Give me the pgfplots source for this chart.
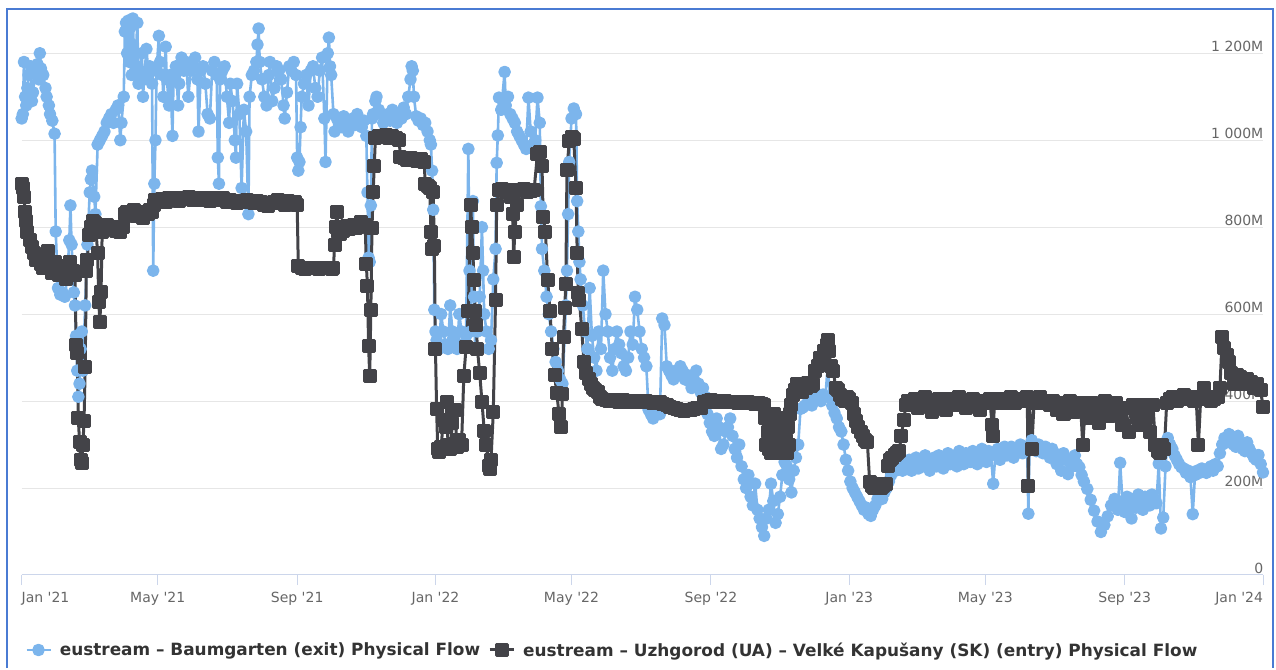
\documentclass[border=0pt]{standalone}
\usepackage{fontspec}
\usepackage{pgfplots}
\pgfplotsset{compat=1.18}
\newfontfamily\dv{DejaVu Sans}
\definecolor{hcblue}{HTML}{7CB5EC}
\definecolor{hcdark}{HTML}{434348}
\definecolor{gridc}{HTML}{E6E6E6}
\definecolor{axisc}{HTML}{CCD6EB}
\definecolor{labc}{HTML}{666666}
\definecolor{legc}{HTML}{333333}
\definecolor{framec}{HTML}{4A7BD3}
\pgfplotsset{legend image code/.code={\draw[mark repeat=2,mark phase=2,#1] plot coordinates {(0pt,0pt) (12pt,0pt) (24pt,0pt)};}}
\begin{document}
\begin{tikzpicture}
\path (0pt,0pt) rectangle (1276pt,668pt);
\begin{axis}[
  at={(21.7pt,93pt)}, anchor=south west,
  scale only axis, width=1241.3pt, height=565.2pt,
  xmin=0, xmax=1095, ymin=0, ymax=1300,
  clip=false, set layers,
  axis x line*=bottom, axis y line*=right,
  x axis line style={draw=axisc, line width=1pt, -},
  y axis line style={draw=none},
  xtick={0,120,243,365,485,608,730,850,973,1095},
  xticklabels={\makebox[0pt][l]{Jan '21},May '21,Sep '21,Jan '22,May '22,Sep '22,Jan '23,May '23,Sep '23,\makebox[0pt][r]{Jan '24}},
  tick align=outside, major tick length=10pt,
  xtick style={draw=axisc, line width=1pt},
  ytick style={draw=none},
  ytick={0,200,400,600,800,1000,1200},
  yticklabels={0,200M,400M,600M,800M,1 000M,1 200M},
  yticklabel pos=right,
  ymajorgrids, grid style={draw=gridc, line width=1pt},
  xticklabel style={font=\dv\fontsize{14}{16}\selectfont, text=labc, anchor=north, yshift=-4pt},
  yticklabel style={font=\dv\fontsize{14}{16}\selectfont, text=labc, anchor=south east, inner sep=1.5pt, xshift=-8pt},
  legend columns=2, legend cell align=left,
  legend style={at={(rel axis cs:0,0)}, anchor=west, xshift=3.3pt, yshift=-75pt,
    draw=none, fill=none, inner sep=0pt,
    font=\dv\bfseries\fontsize{16.9}{20}\selectfont, text=legc,
    nodes={inner sep=0pt},
    /tikz/every odd column/.append style={column sep=8pt},
    /tikz/every even column/.append style={column sep=8pt}},
]
\addplot[color=hcblue, line width=2.6pt, line join=round, mark=*, mark size=5pt, mark options={draw=none, fill=hcblue}] coordinates {
(0,1050) (1,1060) (2,1180) (3,1100) (4,1080) (5,1120) (6,1150) (8,1170) (9,1090) (10,1110) (12,1160) (14,1175) (15,1140) (16,1200) (17,1165) (19,1150) (21,1120) (22,1100) (24,1080) (25,1060) (27,1045) (29,1015) (30,790) (32,660) (34,645) (36,650) (38,640) (40,680) (42,770) (43,850) (44,760) (46,650) (47,620) (48,550) (49,470) (50,410) (51,440) (52,520) (53,560) (54,470) (56,620) (58,760) (60,880) (61,910) (62,930) (64,870) (65,830) (67,990) (69,1000) (71,1010) (73,1020) (75,1040) (77,1050) (79,1060) (81,1040) (83,1070) (85,1080) (87,1000) (88,1040) (90,1100) (91,1250) (92,1270) (93,1200) (94,1275) (95,1180) (96,1260) (97,1150) (98,1280) (99,1200) (100,1160) (102,1270) (103,1130) (104,1150) (106,1200) (107,1100) (108,1140) (110,1210) (112,1150) (113,1170) (115,1130) (116,700) (117,900) (118,1000) (119,1160) (121,1240) (122,1180) (124,1150) (125,1100) (127,1215) (128,1140) (130,1080) (131,1150) (133,1010) (134,1150) (136,1170) (138,1080) (139,1130) (141,1190) (143,1160) (145,1180) (147,1100) (149,1160) (151,1170) (153,1190) (155,1140) (156,1020) (158,1160) (160,1170) (162,1130) (164,1060) (166,1050) (168,1160) (170,1180) (172,1150) (173,960) (174,900) (175,1140) (177,1160) (179,1170) (181,1100) (183,1040) (184,1130) (186,1090) (188,1000) (189,960) (190,1130) (192,1060) (194,890) (196,1070) (198,1020) (200,830) (201,1100) (203,1150) (205,1160) (207,1180) (208,1220) (209,1257) (210,1180) (212,1140) (214,1100) (216,1080) (218,1150) (219,1180) (221,1090) (223,1120) (225,1170) (227,1160) (229,1140) (231,1080) (232,1050) (234,1110) (236,1170) (238,1160) (240,1180) (242,1150) (243,960) (244,930) (245,950) (246,1030) (247,1100) (249,1130) (251,1150) (253,1080) (255,1160) (257,1170) (259,1120) (261,1100) (263,1160) (265,1190) (267,1050) (268,950) (270,1200) (271,1236) (272,1170) (273,1150) (275,1060) (276,1020) (278,1050) (280,1040) (282,1030) (284,1055) (286,1045) (288,1020) (290,1040) (292,1050) (294,1035) (296,1060) (298,1040) (300,1030) (302,1045) (304,1010) (305,880) (306,730) (307,720) (308,850) (309,1050) (310,1060) (312,1090) (313,1100) (315,1070) (317,1060) (319,1040) (321,1050) (323,1060) (325,1045) (327,1070) (329,1050) (331,1040) (333,1060) (335,1050) (337,1075) (339,1060) (341,1100) (343,1140) (344,1170) (345,1160) (346,1100) (348,1055) (350,1045) (352,1050) (354,1035) (356,1040) (358,1020) (360,1000) (361,990) (362,930) (363,840) (364,610) (365,560) (366,540) (368,520) (370,600) (372,560) (374,530) (376,520) (378,620) (380,560) (382,540) (384,520) (386,600) (388,560) (390,530) (392,550) (394,980) (395,700) (396,560) (398,860) (399,640) (400,520) (402,560) (404,640) (406,800) (407,700) (408,600) (410,560) (412,520) (414,540) (416,680) (418,750) (419,948) (420,1011) (421,1098) (423,1070) (426,1157) (427,1080) (429,1100) (431,1060) (433,1050) (435,1040) (437,1020) (439,1010) (441,1000) (443,990) (445,980) (447,1098) (449,1020) (451,990) (453,1000) (455,1098) (457,1040) (458,848) (459,750) (461,700) (463,640) (465,600) (467,560) (469,520) (471,490) (473,470) (475,450) (477,440) (479,550) (480,620) (481,700) (482,830) (483,950) (485,1050) (487,1073) (489,1060) (490,860) (491,790) (492,720) (493,680) (495,620) (497,560) (499,520) (501,660) (503,550) (505,500) (507,470) (509,560) (511,520) (513,700) (515,600) (517,560) (519,500) (521,470) (523,520) (525,560) (527,530) (529,510) (531,480) (533,470) (535,500) (537,560) (539,530) (541,640) (543,610) (545,560) (547,520) (549,500) (551,480) (553,380) (555,370) (557,360) (559,380) (561,375) (563,370) (565,590) (567,575) (569,480) (571,470) (573,460) (575,450) (577,470) (579,460) (581,480) (583,470) (585,450) (587,460) (589,445) (591,430) (593,450) (595,470) (597,440) (599,420) (601,430) (603,410) (605,370) (607,350) (609,330) (611,320) (613,360) (615,340) (617,290) (619,300) (621,330) (623,340) (625,360) (627,320) (629,290) (631,270) (633,300) (635,250) (637,220) (639,200) (641,230) (643,180) (645,160) (647,210) (649,150) (651,130) (653,110) (655,90) (657,130) (659,150) (661,210) (663,170) (665,120) (667,140) (669,180) (671,230) (673,260) (675,250) (677,220) (679,190) (681,240) (683,270) (685,300) (687,382) (689,385) (691,390) (693,395) (695,400) (697,390) (699,405) (701,410) (703,415) (705,400) (707,415) (709,410) (711,480) (713,410) (715,390) (717,373) (719,360) (721,340) (723,330) (725,300) (727,265) (729,240) (731,215) (733,200) (735,190) (737,180) (739,170) (741,160) (743,150) (745,155) (747,140) (749,136) (751,150) (753,160) (755,175) (757,185) (759,175) (761,190) (763,200) (765,215) (767,230) (769,245) (771,240) (773,250) (775,255) (777,240) (779,245) (781,250) (783,265) (785,240) (787,255) (789,270) (791,245) (793,260) (795,250) (797,275) (799,255) (801,240) (803,265) (805,270) (807,250) (809,275) (811,260) (813,245) (815,270) (817,280) (819,255) (821,265) (823,275) (825,250) (827,285) (829,265) (831,255) (833,280) (835,270) (837,260) (839,285) (841,275) (843,255) (845,280) (847,290) (849,270) (851,260) (853,285) (855,275) (857,210) (859,280) (861,290) (863,265) (865,285) (867,295) (869,275) (871,285) (873,295) (875,270) (877,290) (879,285) (881,300) (883,280) (885,295) (887,290) (888,141) (889,290) (891,310) (893,295) (895,285) (897,300) (899,290) (901,280) (903,295) (905,285) (907,270) (909,290) (911,280) (913,255) (915,270) (917,240) (919,280) (921,265) (923,232) (925,260) (927,250) (929,275) (931,255) (933,248) (935,230) (937,215) (940,198) (943,173) (946,148) (949,123) (952,99) (955,115) (958,135) (961,160) (964,175) (967,150) (969,258) (971,170) (973,145) (975,180) (977,160) (979,130) (981,175) (983,155) (985,185) (987,165) (989,150) (991,180) (993,170) (995,160) (997,185) (999,175) (1001,165) (1003,256) (1005,107) (1007,132) (1009,250) (1011,315) (1013,300) (1015,290) (1017,275) (1019,265) (1021,255) (1023,248) (1025,245) (1027,235) (1029,240) (1031,225) (1033,140) (1035,230) (1037,240) (1039,235) (1041,245) (1043,240) (1045,235) (1047,245) (1049,250) (1051,240) (1053,255) (1055,250) (1057,280) (1059,300) (1061,315) (1063,305) (1065,324) (1067,310) (1069,300) (1071,295) (1073,320) (1075,300) (1077,290) (1079,285) (1081,305) (1083,290) (1085,280) (1087,270) (1089,265) (1091,276) (1093,255) (1095,236)
};
\addlegendentry{eustream – Baumgarten (exit) Physical Flow}
\addplot[color=hcdark, line width=3pt, line join=round, mark=square*, mark size=5.5pt, mark options={draw=none, fill=hcdark}] coordinates {
(0,900) (1,890) (2,870) (3,835) (4,815) (5,790) (7,770) (9,755) (11,740) (13,725) (15,735) (17,715) (19,705) (21,725) (23,745) (25,710) (27,695) (29,720) (31,705) (33,690) (35,710) (37,695) (39,680) (41,705) (43,720) (45,700) (47,690) (48,530) (49,510) (50,360) (51,305) (52,265) (53,258) (54,300) (55,355) (56,478) (57,700) (58,725) (59,782) (61,800) (63,815) (65,810) (67,740) (68,627) (69,582) (70,650) (71,790) (73,800) (75,805) (77,798) (79,795) (81,800) (83,792) (85,798) (87,790) (89,800) (91,830) (93,835) (95,832) (97,828) (99,840) (101,826) (103,830) (105,835) (107,822) (109,836) (111,830) (113,840) (115,836) (117,852) (118,862) (121,860) (124,864) (127,858) (130,866) (133,862) (136,868) (139,860) (142,866) (145,864) (148,870) (151,862) (154,868) (157,864) (160,862) (163,866) (166,860) (169,866) (172,862) (175,864) (178,866) (181,858) (184,862) (187,860) (190,856) (193,860) (196,858) (199,862) (202,858) (205,856) (208,860) (211,858) (214,852) (217,848) (220,856) (223,858) (226,862) (229,855) (232,852) (235,860) (238,856) (241,858) (243,852) (244,710) (247,706) (250,704) (253,707) (256,705) (259,706) (262,704) (265,706) (268,705) (271,707) (274,704) (275,705) (276,760) (277,800) (278,836) (279,790) (281,785) (283,792) (285,798) (287,802) (289,796) (291,800) (293,805) (295,798) (297,800) (299,812) (301,804) (303,806) (304,715) (305,665) (306,527) (307,457) (308,610) (309,798) (310,880) (311,940) (312,1005) (315,1010) (318,1008) (321,1012) (324,1006) (327,1010) (330,1005) (333,1000) (334,962) (337,958) (340,955) (343,960) (346,955) (349,952) (352,956) (355,950) (356,900) (358,895) (360,890) (361,790) (362,750) (363,880) (364,757) (365,520) (366,382) (367,290) (368,282) (370,295) (372,357) (374,340) (375,399) (376,300) (378,290) (380,350) (382,380) (384,295) (386,310) (388,300) (390,457) (392,524) (394,607) (396,852) (397,800) (398,740) (399,678) (400,607) (401,574) (402,520) (404,465) (406,399) (408,332) (410,299) (412,250) (413,244) (414,265) (416,374) (418,632) (419,852) (421,885) (424,888) (427,880) (430,885) (432,870) (433,830) (434,731) (435,790) (437,850) (440,885) (443,888) (446,880) (449,884) (452,886) (455,969) (457,972) (459,940) (460,823) (462,790) (464,678) (466,607) (468,519) (470,460) (472,419) (474,370) (476,340) (477,416) (478,548) (479,615) (480,669) (481,932) (483,998) (485,1007) (487,1002) (489,890) (490,740) (491,648) (492,632) (494,565) (496,490) (498,465) (500,450) (502,440) (504,430) (506,425) (508,420) (510,410) (512,405) (515,402) (518,400) (521,403) (524,401) (527,399) (530,402) (533,400) (536,398) (539,401) (542,400) (545,399) (548,397) (551,400) (554,398) (557,396) (560,398) (563,397) (566,393) (569,390) (572,386) (575,383) (578,381) (581,380) (584,378) (587,379) (590,380) (593,381) (596,383) (599,385) (602,398) (605,400) (608,402) (611,399) (614,400) (617,398) (620,400) (623,397) (626,399) (629,398) (632,396) (635,398) (638,395) (641,397) (644,396) (647,394) (650,395) (653,393) (655,390) (656,360) (657,300) (658,330) (659,290) (660,350) (661,280) (662,320) (663,300) (664,370) (665,285) (666,330) (667,300) (668,280) (669,350) (670,300) (671,330) (672,290) (673,360) (674,310) (675,280) (676,340) (677,300) (678,370) (679,390) (680,415) (682,425) (684,440) (686,430) (688,420) (690,438) (692,430) (694,442) (696,435) (698,440) (700,470) (702,480) (704,500) (706,490) (708,515) (710,530) (711,540) (712,515) (714,480) (716,470) (718,430) (720,425) (722,415) (724,405) (726,400) (728,410) (730,405) (732,395) (734,370) (736,355) (738,340) (740,330) (742,320) (744,310) (746,305) (748,215) (750,205) (752,200) (754,203) (756,210) (758,200) (760,205) (762,210) (764,250) (766,265) (768,270) (770,275) (772,280) (774,285) (776,320) (778,357) (780,390) (782,400) (785,395) (788,405) (791,385) (794,400) (797,410) (800,390) (803,375) (806,400) (809,405) (812,395) (815,380) (818,405) (821,400) (824,390) (827,410) (830,395) (833,385) (836,400) (839,405) (842,395) (845,380) (848,400) (851,395) (854,405) (856,345) (857,320) (858,395) (861,400) (864,405) (867,395) (870,400) (873,410) (876,395) (879,400) (882,405) (885,400) (887,410) (888,205) (889,400) (891,290) (893,395) (895,400) (898,410) (901,395) (904,400) (907,390) (910,400) (913,380) (916,395) (919,370) (922,385) (925,400) (928,375) (931,390) (934,395) (936,298) (938,380) (941,360) (944,395) (947,385) (950,350) (953,375) (956,400) (959,365) (962,390) (965,395) (968,370) (971,345) (974,385) (977,330) (980,390) (983,375) (986,345) (989,390) (992,360) (995,330) (998,390) (1000,300) (1002,285) (1004,280) (1006,300) (1008,290) (1010,395) (1013,405) (1016,410) (1019,400) (1022,410) (1025,415) (1028,405) (1031,410) (1034,400) (1036,410) (1038,298) (1040,405) (1043,431) (1046,410) (1049,400) (1052,405) (1055,410) (1057,430) (1059,548) (1061,523) (1063,505) (1065,490) (1067,465) (1069,440) (1072,460) (1075,455) (1078,440) (1081,450) (1084,445) (1087,430) (1090,440) (1093,425) (1095,386)
};
\addlegendentry{eustream – Uzhgorod (UA) – Velké Kapušany (SK) (entry) Physical Flow}
\end{axis}
\draw[framec, line width=2pt] (7pt,0pt) -- (7pt,659pt) -- (1273pt,659pt) -- (1273pt,0pt);
\end{tikzpicture}
\end{document}
